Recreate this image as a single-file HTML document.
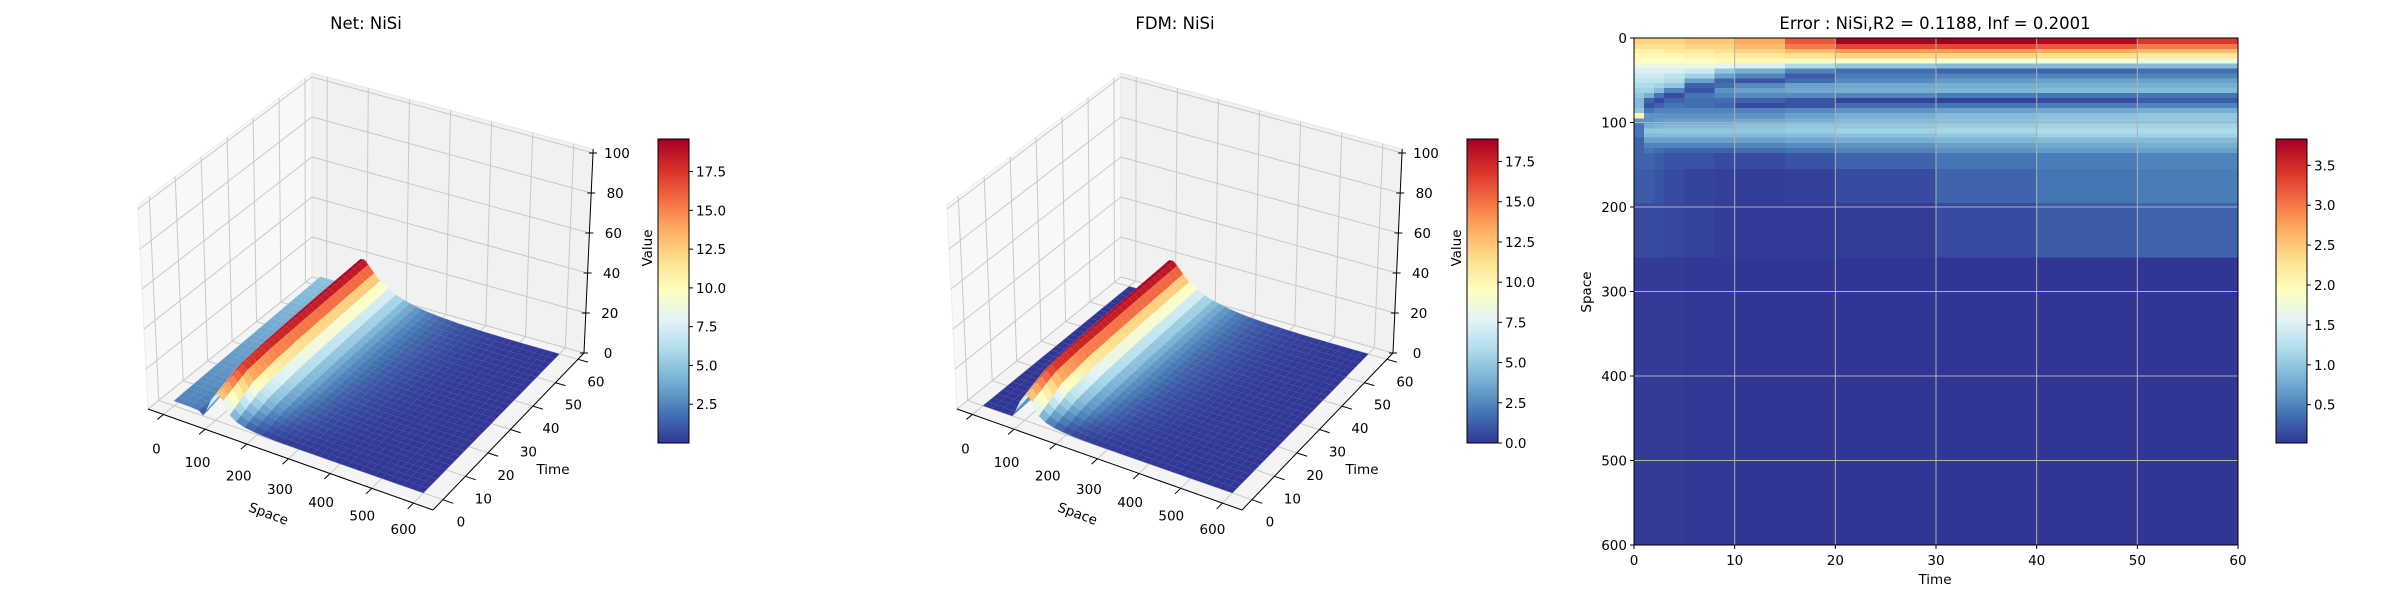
<!DOCTYPE html>
<html><head><meta charset="utf-8">
<style>
html,body{margin:0;padding:0;background:#fff;}
svg{display:block;font-family:"DejaVu Sans","Liberation Sans",sans-serif;}
</style></head>
<body>
<svg id="chart" width="2400" height="600" xmlns="http://www.w3.org/2000/svg">
<defs>
<linearGradient id="cmapGrad" x1="0" y1="1" x2="0" y2="0">
<stop offset="0" stop-color="#313695"/><stop offset="0.1" stop-color="#4575b4"/><stop offset="0.2" stop-color="#74add1"/><stop offset="0.3" stop-color="#abd9e9"/><stop offset="0.4" stop-color="#e0f3f8"/><stop offset="0.5" stop-color="#ffffbf"/><stop offset="0.6" stop-color="#fee090"/><stop offset="0.7" stop-color="#fdae61"/><stop offset="0.8" stop-color="#f46d43"/><stop offset="0.9" stop-color="#d73027"/><stop offset="1" stop-color="#a50026"/>
</linearGradient>
</defs>
</svg>
<script>
// ---------- 3D surface data ----------
const spacePts = [0,20,40,60,70,80,90,100,110,120,135,150,170,190,210,240,270,300,350,400,450,500,600];
const timePts = [0,10,20,30,40,50,60];
const net_t0  = [2.4,2.4,2.3,2.0,0.3,4,9,12,14,11,5,2.8,1.5,0.9,0.5,0.2,0.1,0.07,0.04,0.02,0.01,0.01,0];
const net_t10 = [2.8,2.8,2.8,2.6,3,8,14,17,18.5,16,11.5,8,5.5,3.8,2.6,1.5,0.9,0.55,0.25,0.1,0.05,0.03,0];
const net_t20 = [3.2,3.2,3.2,3.2,4,9,15,18,19,17,13,9.5,6.8,5,3.7,2.3,1.4,0.9,0.45,0.2,0.1,0.04,0];
const net_t30 = [3.6,3.6,3.6,3.6,4.5,9.5,15.5,18.5,19.3,17.2,13.5,10.2,7.4,5.6,4.2,2.7,1.8,1.2,0.6,0.3,0.15,0.06,0];
const net_t40 = [4.0,4.0,4.0,4.0,5,10,16,18.8,19.5,17.4,13.8,10.6,7.8,6,4.5,3,2,1.4,0.75,0.35,0.18,0.07,0];
const net_t50 = [4.4,4.4,4.4,4.4,5.5,10.5,16.2,19,19.6,17.5,14,10.9,8.1,6.3,4.8,3.2,2.2,1.55,0.85,0.42,0.2,0.08,0];
const net_t60 = [4.8,4.8,4.8,4.8,6,11,16.5,19.2,19.6,17.6,14.2,11.1,8.4,6.5,5,3.4,2.4,1.7,0.95,0.5,0.25,0.1,0];
const fdm_t0  = [0,0,0,0,0,3.5,8.5,11.5,13.5,10.5,4.6,2.6,1.4,0.8,0.45,0.18,0.09,0.06,0.03,0.02,0.01,0,0];
const fdm_t10 = [0,0,0,0,0.5,7,13.5,16.5,18,15.5,11,7.6,5.2,3.6,2.5,1.4,0.85,0.5,0.22,0.09,0.04,0.02,0];
const fdm_t20 = [0,0,0,0,0.8,8,14.5,17.5,18.5,16.5,12.6,9.1,6.5,4.8,3.5,2.2,1.35,0.85,0.4,0.18,0.09,0.04,0];
const fdm_t30 = [0,0,0,0,1,8.5,15,18,18.7,16.7,13,9.8,7.1,5.3,4,2.6,1.7,1.1,0.55,0.25,0.12,0.05,0];
const fdm_t40 = [0,0,0,0,1.2,9,15.4,18.3,18.8,16.9,13.3,10.2,7.5,5.7,4.3,2.9,1.9,1.3,0.7,0.32,0.16,0.06,0];
const fdm_t50 = [0,0,0,0,1.4,9.4,15.7,18.5,18.9,17,13.5,10.4,7.8,6,4.5,3.1,2.1,1.45,0.78,0.38,0.19,0.07,0];
const fdm_t60 = [0,0,0,0,1.6,9.8,16,18.7,18.9,17.1,13.7,10.6,8.1,6.2,4.8,3.3,2.3,1.6,0.88,0.45,0.22,0.09,0];
const netRows = [net_t0,net_t10,net_t20,net_t30,net_t40,net_t50,net_t60];
const fdmRows = [fdm_t0,fdm_t10,fdm_t20,fdm_t30,fdm_t40,fdm_t50,fdm_t60];
const spaceTicks = [0,100,200,300,400,500,600];
const timeTicks = [0,10,20,30,40,50,60];
const zTicks = [0,20,40,60,80,100];
const netCbTicks = [2.5,5.0,7.5,10.0,12.5,15.0,17.5];
const fdmCbTicks = [0.0,2.5,5.0,7.5,10.0,12.5,15.0,17.5];

// ---------- heatmap data ----------
const hmTimeEdges = [0,1,2,3,5,8,10,15,20,30,40,50,60];
const hmSpaceEdges = [0,7,13,18,24,30,36,42,48,53,59,65,71,77,83,89,95,101,107,113,118,124,130,136,155,195,260,600];
const errRows = [
[2.4,2.4,2.4,2.4,2.5,2.5,2.7,3.2,3.8,3.83,3.75,3.4],
[2.3,2.3,2.3,2.3,2.4,2.4,2.6,3.0,3.3,3.3,3.2,3.0],
[2.1,2.1,2.1,2.2,2.2,2.3,2.4,2.6,2.8,2.8,2.7,2.6],
[2.0,2.0,2.0,2.0,2.1,2.1,2.2,2.3,2.4,2.4,2.3,2.2],
[1.9,1.9,1.9,1.9,1.9,2.0,2.0,1.9,1.9,1.8,1.8,1.7],
[1.7,1.7,1.7,1.7,1.7,1.6,1.5,1.2,1.0,0.9,0.9,0.9],
[1.5,1.5,1.5,1.5,1.4,1.0,0.8,0.5,0.35,0.3,0.3,0.35],
[1.4,1.4,1.4,1.3,1.1,0.7,0.5,0.25,0.45,0.5,0.5,0.5],
[1.3,1.3,1.3,1.2,0.7,0.3,0.2,0.35,0.55,0.65,0.7,0.7],
[1.2,1.2,1.1,1.0,0.3,0.35,0.55,0.7,0.75,0.8,0.8,0.8],
[1.1,1.1,0.9,0.5,0.2,0.6,0.7,0.75,0.8,0.85,0.9,0.9],
[1.0,0.8,0.4,0.15,0.4,0.5,0.55,0.55,0.5,0.45,0.4,0.4],
[0.9,0.3,0.15,0.3,0.35,0.35,0.3,0.2,0.1,0.08,0.15,0.25],
[0.9,0.2,0.3,0.4,0.35,0.3,0.15,0.2,0.35,0.4,0.45,0.5],
[1.0,0.4,0.5,0.5,0.5,0.5,0.5,0.55,0.6,0.7,0.75,0.8],
[2.0,0.6,0.6,0.6,0.6,0.6,0.6,0.7,0.8,0.9,0.95,1.0],
[0.6,0.6,0.65,0.7,0.7,0.7,0.75,0.8,0.9,0.95,1.0,1.0],
[0.4,0.8,0.85,0.9,0.9,0.9,0.95,1.0,1.0,1.05,1.1,1.1],
[0.4,1.0,1.0,1.0,1.0,1.0,1.0,1.05,1.1,1.15,1.2,1.2],
[0.4,0.9,0.9,0.9,0.9,0.9,0.9,0.9,0.95,1.0,1.1,1.1],
[0.3,0.7,0.7,0.7,0.7,0.7,0.7,0.75,0.8,0.85,0.9,0.9],
[0.3,0.5,0.5,0.5,0.5,0.5,0.5,0.55,0.6,0.7,0.75,0.8],
[0.3,0.4,0.35,0.3,0.3,0.3,0.35,0.4,0.5,0.6,0.65,0.7],
[0.3,0.3,0.25,0.2,0.2,0.15,0.15,0.2,0.3,0.4,0.45,0.5],
[0.25,0.25,0.2,0.15,0.1,0.08,0.06,0.08,0.15,0.3,0.4,0.45],
[0.15,0.15,0.15,0.12,0.1,0.06,0.04,0.04,0.06,0.15,0.25,0.3],
[0.05,0.05,0.05,0.05,0.03,0.03,0.02,0.02,0.02,0.02,0.02,0.02]
];
const hmXTicks = [0,10,20,30,40,50,60];
const hmYTicks = [0,100,200,300,400,500,600];
const errCbTicks = [0.5,1.0,1.5,2.0,2.5,3.0,3.5];

const NS = "http://www.w3.org/2000/svg";
const svg = document.getElementById('chart');
function mk(tag, parent){ const e = document.createElementNS(NS, tag); parent.appendChild(e); return e; }
function attrs(e, o){ for (const k in o) e.setAttribute(k, o[k]); return e; }

const CM = ['#313695','#4575b4','#74add1','#abd9e9','#e0f3f8','#ffffbf','#fee090','#fdae61','#f46d43','#d73027','#a50026'].map(h=>[parseInt(h.substr(1,2),16),parseInt(h.substr(3,2),16),parseInt(h.substr(5,2),16)]);
function cmapRGB(f){ f=Math.max(0,Math.min(1,f)); const p=f*10; const i=Math.min(9,Math.floor(p)); const r=p-i;
  return [0,1,2].map(k=>Math.round(CM[i][k]*(1-r)+CM[i+1][k]*r)); }
function cmap(f){ const c=cmapRGB(f); return 'rgb('+c.join(',')+')'; }
function cmapLight(f){ const c=cmapRGB(f).map(v=>Math.round(v*0.85+255*0.15)); return 'rgb('+c.join(',')+')'; }
function minOf(rows){ return Math.min(...rows.map(r=>Math.min(...r))); }
function maxOf(rows){ return Math.max(...rows.map(r=>Math.max(...r))); }

function text(parent, x, y, str, size, anchor, rot){
  const t = mk('text', parent);
  attrs(t, {x:x, y:y, 'font-size':size, 'text-anchor':anchor||'middle', fill:'#000'});
  if (rot) t.setAttribute('transform', 'rotate('+rot+' '+x+' '+y+')');
  t.textContent = str;
  return t;
}

const SMIN=-37, SMAX=647, TMIN=-4.4, TMAX=62.7, ZMAX=100, ZTOP=102;
function proj(ox, s, t, z){
  const a=(s-SMIN)/(SMAX-SMIN), b=(t-TMIN)/(TMAX-TMIN), c=z/ZMAX;
  const wx = -10*(1-a)*(1-b) + 9*a*b;
  return [ox+148+a*285+b*151+(1-a)*b*13+c*wx, 409+a*101-b*157+(1-a)*b*25-c*200];
}
function ptsStr(arr){ return arr.map(p=>p[0].toFixed(1)+','+p[1].toFixed(1)).join(' '); }

function colorbar(parent, x, vmin, vmax, ticks, name, fmt){
  const top=139, bot=443, w=31;
  const g = mk('g', parent);
  
  
  const r = mk('rect', g);
  attrs(r, {x:x, y:top, width:w, height:bot-top, fill:'url(#cmapGrad)', stroke:'#000', 'stroke-width':1});
  
  
  ticks.forEach(v=>{
    const y = bot - (v-vmin)/(vmax-vmin)*(bot-top);
    const l = mk('line', g);
    attrs(l, {x1:x+w, x2:x+w+4, y1:y, y2:y, stroke:'#000', 'stroke-width':1});
    
    
    const t = text(g, x+w+7, y+5, v.toFixed(fmt), 13.5, 'start');
    
    
  });
}

function panel3D(ox, title, rows, name, cbX, cbTicks){
  const g = mk('g', svg);
  
  
  const tt = text(g, ox+366, 29, title, 16.5);
  
  
  const leftPane = mk('polygon', g);
  attrs(leftPane, {points: ptsStr([proj(ox,SMIN,TMIN,0),proj(ox,SMIN,TMAX,0),proj(ox,SMIN,TMAX,ZTOP),proj(ox,SMIN,TMIN,ZTOP)]), fill:'#f8f8f8', stroke:'#ececec', 'stroke-width':1});
  
  
  const backPane = mk('polygon', g);
  attrs(backPane, {points: ptsStr([proj(ox,SMIN,TMAX,0),proj(ox,SMAX,TMAX,0),proj(ox,SMAX,TMAX,ZTOP),proj(ox,SMIN,TMAX,ZTOP)]), fill:'#f1f1f1', stroke:'#e6e6e6', 'stroke-width':1});
  
  
  const floor = mk('polygon', g);
  attrs(floor, {points: ptsStr([proj(ox,SMIN,TMIN,0),proj(ox,SMAX,TMIN,0),proj(ox,SMAX,TMAX,0),proj(ox,SMIN,TMAX,0)]), fill:'#f4f4f4', stroke:'#e6e6e6', 'stroke-width':1});
  
  
  const grid = mk('g', g);
  
  
  function gl(p1,p2){ const l=mk('line',grid); attrs(l,{x1:p1[0],y1:p1[1],x2:p2[0],y2:p2[1],stroke:'#c8c8c8','stroke-width':1});
    
     }
  spaceTicks.forEach(s=>{ gl(proj(ox,s,TMIN,0),proj(ox,s,TMAX,0)); gl(proj(ox,s,TMAX,0),proj(ox,s,TMAX,ZTOP)); });
  timeTicks.forEach(t=>{ gl(proj(ox,SMIN,t,0),proj(ox,SMAX,t,0)); gl(proj(ox,SMIN,t,0),proj(ox,SMIN,t,ZTOP)); });
  zTicks.forEach(z=>{ gl(proj(ox,SMIN,TMIN,z),proj(ox,SMIN,TMAX,z)); gl(proj(ox,SMIN,TMAX,z),proj(ox,SMAX,TMAX,z)); });
  const vmin=minOf(rows), vmax=maxOf(rows);
  const surf = mk('g', g);
  
  
  const quads=[];
  for (let j=0;j<timePts.length-1;j++){
    for (let i=0;i<spacePts.length-1;i++){
      const ns=Math.max(1,Math.round((spacePts[i+1]-spacePts[i])/17)), nt=5;
      const v00=rows[j][i], v10=rows[j][i+1], v01=rows[j+1][i], v11=rows[j+1][i+1];
      const bil=(u,v)=>v00*(1-u)*(1-v)+v10*u*(1-v)+v01*(1-u)*v+v11*u*v;
      for (let a=0;a<ns;a++) for (let b=0;b<nt;b++){
        const u0=a/ns,u1=(a+1)/ns,w0=b/nt,w1=(b+1)/nt;
        const s0=spacePts[i]+(spacePts[i+1]-spacePts[i])*u0, s1=spacePts[i]+(spacePts[i+1]-spacePts[i])*u1;
        const t0=timePts[j]+(timePts[j+1]-timePts[j])*w0, t1=timePts[j]+(timePts[j+1]-timePts[j])*w1;
        const z00=bil(u0,w0), z10=bil(u1,w0), z11=bil(u1,w1), z01=bil(u0,w1);
        const val=(z00+z10+z11+z01)/4;
        const an=((s0+s1)/2-SMIN)/(SMAX-SMIN), bn=((t0+t1)/2-TMIN)/(TMAX-TMIN);
        quads.push({p:[proj(ox,s0,t0,z00),proj(ox,s1,t0,z10),proj(ox,s1,t1,z11),proj(ox,s0,t1,z01)], v:val, key:0.5*an-0.866*bn});
      }
    }
  }
  quads.sort((q1,q2)=>q1.key-q2.key);
  quads.forEach(q=>{
    const f=(q.v-vmin)/(vmax-vmin);
    const pg=mk('polygon',surf);
    attrs(pg,{points:ptsStr(q.p), fill:cmap(f), stroke:cmapLight(f), 'stroke-width':0.5, 'stroke-linejoin':'round'});
    
    
  });
  const ax = mk('g', g);
  
  
  function al(p1,p2,nm){ const l=mk('line',ax); attrs(l,{x1:p1[0],y1:p1[1],x2:p2[0],y2:p2[1],stroke:'#000','stroke-width':1});
    
     }
  al(proj(ox,SMIN,TMIN,0),proj(ox,SMAX,TMIN,0),'space-axis-line');
  al(proj(ox,SMAX,TMIN,0),proj(ox,SMAX,TMAX,0),'time-axis-line');
  al(proj(ox,SMAX,TMAX,0),proj(ox,SMAX,TMAX,ZTOP),'value-axis-line');
  spaceTicks.forEach(s=>{
    const p=proj(ox,s,TMIN,0), q=proj(ox,s,TMIN-2.5,0);
    al(p,q,'space-tick');
    const f=s/600;
    const t=text(ax,p[0]-7-3*f,p[1]+39-8*f,String(s),13.5);
    
    
  });
  timeTicks.forEach(tv=>{
    const p=proj(ox,SMAX,tv,0), q=proj(ox,SMAX+25,tv,0);
    al(p,q,'time-tick');
    const t=text(ax,p[0]+18,p[1]+27,String(tv),13.5);
    
    
  });
  zTicks.forEach(z=>{
    const p=proj(ox,SMAX,TMAX,z);
    al([p[0]-4,p[1]],[p[0]+4,p[1]],'value-tick');
    const t=text(ax,p[0]+24,p[1]+5,String(z),13.5);
    
    
  });
  const xl=text(ax,ox+267,518,'Space',13.5,'middle',20);
  
  
  const yl=text(ax,ox+553,474,'Time',13.5);
  
  
  const zl=text(ax,ox+652,248,'Value',13.5,'middle',-90);
  
  
  colorbar(g, cbX, vmin, vmax, cbTicks, name+'-colorbar', 1);
}

panel3D(0, 'Net: NiSi', netRows, 'net-panel', 658, netCbTicks);
panel3D(809, 'FDM: NiSi', fdmRows, 'fdm-panel', 1467, fdmCbTicks);

(function(){
  const X0=1634, X1=2238, Y0=38, Y1=545;
  const xs=t=>X0+(t-0)/60*(X1-X0), ys=s=>Y0+(s-0)/600*(Y1-Y0);
  const g=mk('g',svg);
  
  
  const tt=text(g,1935,29,'Error : NiSi,R2 = 0.1188, Inf = 0.2001',16.5);
  
  
  const vmin=minOf(errRows), vmax=maxOf(errRows);
  const cells=mk('g',g);
  
  
  cells.setAttribute('shape-rendering','crispEdges');
  errRows.forEach((row,ri)=>{
    row.forEach((v,ci)=>{
      const r=mk('rect',cells);
      const x=xs(hmTimeEdges[ci]), y=ys(hmSpaceEdges[ri]);
      attrs(r,{x:x,y:y,width:xs(hmTimeEdges[ci+1])-x+0.5,height:ys(hmSpaceEdges[ri+1])-y+0.5,fill:cmap((v-vmin)/(vmax-vmin))});
      
      
    });
  });
  const grid=mk('g',g);
  
  
  hmXTicks.forEach(t=>{
    const l=mk('line',grid); attrs(l,{x1:xs(t),x2:xs(t),y1:Y0,y2:Y1,stroke:'#b0b0b0','stroke-width':1});
    
    
    const tk=mk('line',grid); attrs(tk,{x1:xs(t),x2:xs(t),y1:Y1,y2:Y1+4,stroke:'#000','stroke-width':1});
    
    
    const lb=text(grid,xs(t),565,String(t),13.5);
    
    
  });
  hmYTicks.forEach(s=>{
    const l=mk('line',grid); attrs(l,{x1:X0,x2:X1,y1:ys(s),y2:ys(s),stroke:'#b0b0b0','stroke-width':1});
    
    
    const tk=mk('line',grid); attrs(tk,{x1:X0-4,x2:X0,y1:ys(s),y2:ys(s),stroke:'#000','stroke-width':1});
    
    
    const lb=text(grid,X0-7,ys(s)+5,String(s),13.5,'end');
    
    
  });
  const fr=mk('rect',g);
  attrs(fr,{x:X0,y:Y0,width:X1-X0,height:Y1-Y0,fill:'none',stroke:'#000','stroke-width':1});
  
  
  const xl=text(g,1935,584,'Time',13.5);
  
  
  const yl=text(g,1591,292,'Space',13.5,'middle',-90);
  
  
  colorbar(g,2276,vmin,vmax,errCbTicks,'error-colorbar',1);
})();
</script>
</body></html>
